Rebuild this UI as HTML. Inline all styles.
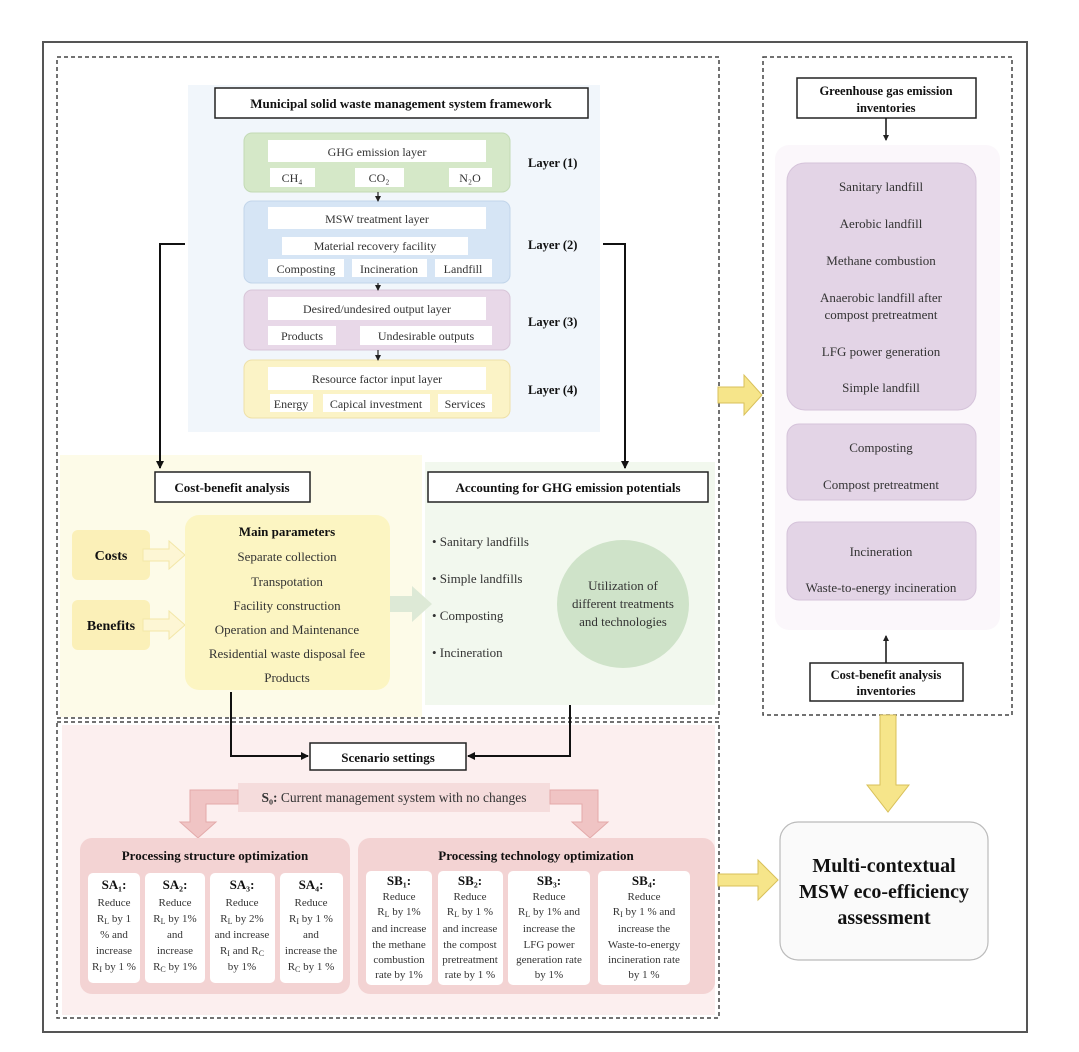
<!DOCTYPE html>
<html><head><meta charset="utf-8"><style>
html,body{margin:0;padding:0;background:#fff}
svg text{font-family:"Liberation Serif",serif;fill:#333}
.b{font-weight:bold;fill:#111}
</style></head><body>
<svg width="1079" height="1047" viewBox="0 0 1079 1047" xmlns="http://www.w3.org/2000/svg">
<defs>
<marker id="ah" markerWidth="8" markerHeight="8" refX="7" refY="4" orient="auto" markerUnits="userSpaceOnUse"><path d="M0,0 L8,4 L0,8 z" fill="#111"/></marker>
<marker id="sa" markerWidth="6" markerHeight="6" refX="5" refY="3" orient="auto" markerUnits="userSpaceOnUse"><path d="M0,0 L6,3 L0,6 z" fill="#222"/></marker>
</defs>
<rect width="1079" height="1047" fill="#fff"/>
<rect x="43" y="42" width="984" height="990" fill="none" stroke="#555" stroke-width="2"/>

<rect x="188" y="85" width="412" height="347" fill="#f1f6fb"/>
<rect x="60" y="455" width="362" height="262" fill="#fdfbe8"/>
<rect x="425" y="462" width="290" height="243" fill="#f2f8ee"/>
<rect x="62" y="725" width="653" height="290" fill="#fcefef"/>
<rect x="775" y="145" width="225" height="485" rx="14" fill="#fbf7fb"/>

<rect x="57" y="57" width="662" height="661" fill="none" stroke="#444" stroke-width="1.5" stroke-dasharray="4,3"/>
<rect x="57" y="722" width="662" height="296" fill="none" stroke="#444" stroke-width="1.5" stroke-dasharray="4,3"/>
<rect x="763" y="57" width="249" height="658" fill="none" stroke="#444" stroke-width="1.5" stroke-dasharray="4,3"/>

<rect x="215" y="88" width="373" height="30" fill="#fff" stroke="#222" stroke-width="1.5"/>
<text x="401" y="108" text-anchor="middle" class="b" font-size="13">Municipal solid waste management system framework</text>

<g font-size="12">
<rect x="244" y="133" width="266" height="59" rx="8" fill="#d5e8c8" stroke="#c3dab5"/>
<rect x="268" y="140" width="218" height="22" fill="#fff"/>
<text x="377" y="156" text-anchor="middle">GHG emission layer</text>
<rect x="270" y="168" width="45" height="19" fill="#fff"/><text x="292" y="182" text-anchor="middle">CH₄</text>
<rect x="355" y="168" width="49" height="19" fill="#fff"/><text x="379" y="182" text-anchor="middle">CO₂</text>
<rect x="449" y="168" width="43" height="19" fill="#fff"/><text x="470" y="182" text-anchor="middle">N₂O</text>

<rect x="244" y="201" width="266" height="82" rx="8" fill="#d6e5f5" stroke="#c2d5ea"/>
<rect x="268" y="207" width="218" height="22" fill="#fff"/>
<text x="377" y="223" text-anchor="middle">MSW treatment layer</text>
<rect x="282" y="237" width="186" height="18" fill="#fff"/><text x="375" y="250" text-anchor="middle">Material recovery facility</text>
<rect x="268" y="259" width="76" height="18" fill="#fff"/><text x="306" y="273" text-anchor="middle">Composting</text>
<rect x="352" y="259" width="75" height="18" fill="#fff"/><text x="389" y="273" text-anchor="middle">Incineration</text>
<rect x="435" y="259" width="57" height="18" fill="#fff"/><text x="463" y="273" text-anchor="middle">Landfill</text>

<rect x="244" y="290" width="266" height="60" rx="8" fill="#e8d8e8" stroke="#d8c5d8"/>
<rect x="268" y="297" width="218" height="23" fill="#fff"/>
<text x="377" y="313" text-anchor="middle">Desired/undesired output layer</text>
<rect x="268" y="326" width="68" height="19" fill="#fff"/><text x="302" y="340" text-anchor="middle">Products</text>
<rect x="360" y="326" width="132" height="19" fill="#fff"/><text x="426" y="340" text-anchor="middle">Undesirable outputs</text>

<rect x="244" y="360" width="266" height="58" rx="8" fill="#fbf3c6" stroke="#eee0a8"/>
<rect x="268" y="367" width="218" height="23" fill="#fff"/>
<text x="377" y="383" text-anchor="middle">Resource factor input layer</text>
<rect x="270" y="394" width="43" height="18" fill="#fff"/><text x="291" y="408" text-anchor="middle">Energy</text>
<rect x="323" y="394" width="107" height="18" fill="#fff"/><text x="376" y="408" text-anchor="middle">Capical investment</text>
<rect x="438" y="394" width="54" height="18" fill="#fff"/><text x="465" y="408" text-anchor="middle">Services</text>
</g>
<g stroke="#222" stroke-width="1.2">
<line x1="378" y1="192" x2="378" y2="201" marker-end="url(#sa)"/>
<line x1="378" y1="283" x2="378" y2="290" marker-end="url(#sa)"/>
<line x1="378" y1="350" x2="378" y2="360" marker-end="url(#sa)"/>
</g>
<g class="b" font-size="12.5">
<text x="528" y="167" class="b">Layer (1)</text>
<text x="528" y="249" class="b">Layer (2)</text>
<text x="528" y="326" class="b">Layer (3)</text>
<text x="528" y="394" class="b">Layer (4)</text>
</g>

<g fill="none" stroke="#111" stroke-width="2">
<polyline points="185,244 160,244 160,468" marker-end="url(#ah)"/>
<polyline points="603,244 625,244 625,468" marker-end="url(#ah)"/>
<polyline points="231,692 231,756 308,756" marker-end="url(#ah)"/>
<polyline points="570,705 570,756 468,756" marker-end="url(#ah)"/>
</g>

<rect x="155" y="472" width="155" height="30" fill="#fff" stroke="#222" stroke-width="1.5"/>
<text x="232" y="492" text-anchor="middle" class="b" font-size="13">Cost-benefit analysis</text>
<rect x="72" y="530" width="78" height="50" rx="6" fill="#fbf0b8"/>
<text x="111" y="560" text-anchor="middle" class="b" font-size="14">Costs</text>
<rect x="72" y="600" width="78" height="50" rx="6" fill="#fbf0b8"/>
<text x="111" y="630" text-anchor="middle" class="b" font-size="14">Benefits</text>
<path d="M143,549 h26 v-8 l16,14 l-16,14 v-8 h-26z" fill="#fdf6d4" stroke="#f3e7a8"/>
<path d="M143,619 h26 v-8 l16,14 l-16,14 v-8 h-26z" fill="#fdf6d4" stroke="#f3e7a8"/>
<rect x="185" y="515" width="205" height="175" rx="14" fill="#fcf5c2"/>
<g font-size="13" text-anchor="middle">
<text x="287" y="536" class="b">Main parameters</text>
<text x="287" y="561">Separate collection</text>
<text x="287" y="586">Transpotation</text>
<text x="287" y="610">Facility construction</text>
<text x="287" y="634">Operation and Maintenance</text>
<text x="287" y="658">Residential waste disposal fee</text>
<text x="287" y="682">Products</text>
</g>
<path d="M390,596 h22 v-10 l20,18 l-20,18 v-10 h-22z" fill="#dde9d6"/>

<rect x="428" y="472" width="280" height="30" fill="#fff" stroke="#222" stroke-width="1.5"/>
<text x="568" y="492" text-anchor="middle" class="b" font-size="13">Accounting for GHG emission potentials</text>
<g font-size="13">
<text x="432" y="546">•  Sanitary landfills</text>
<text x="432" y="583">•  Simple landfills</text>
<text x="432" y="620">•  Composting</text>
<text x="432" y="657">•  Incineration</text>
</g>
<ellipse cx="623" cy="604" rx="66" ry="64" fill="#cfe3c9"/>
<g font-size="13" text-anchor="middle">
<text x="623" y="590">Utilization of</text>
<text x="623" y="608">different treatments</text>
<text x="623" y="626">and technologies</text>
</g>

<rect x="310" y="743" width="156" height="27" fill="#fff" stroke="#222" stroke-width="1.5"/>
<text x="388" y="762" text-anchor="middle" class="b" font-size="13">Scenario settings</text>
<rect x="238" y="783" width="312" height="29" fill="#f5dcdc"/>
<text x="394" y="802" text-anchor="middle" font-size="13.5" fill="#222"><tspan font-weight="bold">S₀:</tspan> Current management system with no changes</text>
<path d="M238,790 h-48 v32 h-10 l18,16 l18,-16 h-10 v-18 h32z" fill="#f0c4c4" stroke="#e3aaaa"/>
<path d="M550,790 h48 v32 h10 l-18,16 l-18,-16 h10 v-18 h-32z" fill="#f0c4c4" stroke="#e3aaaa"/>

<rect x="80" y="838" width="270" height="156" rx="12" fill="#f3d3d3"/>
<text x="215" y="860" text-anchor="middle" class="b" font-size="13">Processing structure optimization</text>
<rect x="358" y="838" width="357" height="156" rx="12" fill="#f3d3d3"/>
<text x="536" y="860" text-anchor="middle" class="b" font-size="13">Processing technology optimization</text>

<g font-size="11" text-anchor="middle">
<rect x="88" y="873" width="52" height="110" rx="5" fill="#fff"/>
<text x="114" y="889" class="b" font-size="13">SA₁:</text>
<text x="114" y="906">Reduce</text><text x="114" y="922">R<tspan font-size="8" dy="2">L</tspan><tspan dy="-2"> by 1</tspan></text><text x="114" y="938">% and</text><text x="114" y="954">increase</text><text x="114" y="970">R<tspan font-size="8" dy="2">I</tspan><tspan dy="-2"> by 1 %</tspan></text>

<rect x="145" y="873" width="60" height="110" rx="5" fill="#fff"/>
<text x="175" y="889" class="b" font-size="13">SA₂:</text>
<text x="175" y="906">Reduce</text><text x="175" y="922">R<tspan font-size="8" dy="2">L</tspan><tspan dy="-2"> by 1%</tspan></text><text x="175" y="938">and</text><text x="175" y="954">increase</text><text x="175" y="970">R<tspan font-size="8" dy="2">C</tspan><tspan dy="-2"> by 1%</tspan></text>

<rect x="210" y="873" width="65" height="110" rx="5" fill="#fff"/>
<text x="242" y="889" class="b" font-size="13">SA₃:</text>
<text x="242" y="906">Reduce</text><text x="242" y="922">R<tspan font-size="8" dy="2">L</tspan><tspan dy="-2"> by 2%</tspan></text><text x="242" y="938">and increase</text><text x="242" y="954">R<tspan font-size="8" dy="2">I</tspan><tspan dy="-2"> and R</tspan><tspan font-size="8" dy="2">C</tspan></text><text x="242" y="970">by 1%</text>

<rect x="280" y="873" width="63" height="110" rx="5" fill="#fff"/>
<text x="311" y="889" class="b" font-size="13">SA₄:</text>
<text x="311" y="906">Reduce</text><text x="311" y="922">R<tspan font-size="8" dy="2">I</tspan><tspan dy="-2"> by 1 %</tspan></text><text x="311" y="938">and</text><text x="311" y="954">increase the</text><text x="311" y="970">R<tspan font-size="8" dy="2">C</tspan><tspan dy="-2"> by 1 %</tspan></text>

<rect x="366" y="871" width="66" height="114" rx="5" fill="#fff"/>
<text x="399" y="885" class="b" font-size="13">SB₁:</text>
<text x="399" y="900">Reduce</text><text x="399" y="915">R<tspan font-size="8" dy="2">L</tspan><tspan dy="-2"> by 1%</tspan></text><text x="399" y="932">and increase</text><text x="399" y="948">the methane</text><text x="399" y="963">combustion</text><text x="399" y="978">rate by 1%</text>

<rect x="438" y="871" width="65" height="114" rx="5" fill="#fff"/>
<text x="470" y="885" class="b" font-size="13">SB₂:</text>
<text x="470" y="900">Reduce</text><text x="470" y="915">R<tspan font-size="8" dy="2">L</tspan><tspan dy="-2"> by 1 %</tspan></text><text x="470" y="932">and increase</text><text x="470" y="948">the compost</text><text x="470" y="963">pretreatment</text><text x="470" y="978">rate by 1 %</text>

<rect x="508" y="871" width="82" height="114" rx="5" fill="#fff"/>
<text x="549" y="885" class="b" font-size="13">SB₃:</text>
<text x="549" y="900">Reduce</text><text x="549" y="915">R<tspan font-size="8" dy="2">L</tspan><tspan dy="-2"> by 1% and</tspan></text><text x="549" y="932">increase the</text><text x="549" y="948">LFG power</text><text x="549" y="963">generation rate</text><text x="549" y="978">by 1%</text>

<rect x="598" y="871" width="92" height="114" rx="5" fill="#fff"/>
<text x="644" y="885" class="b" font-size="13">SB₄:</text>
<text x="644" y="900">Reduce</text><text x="644" y="915">R<tspan font-size="8" dy="2">I</tspan><tspan dy="-2"> by 1 % and</tspan></text><text x="644" y="932">increase the</text><text x="644" y="948">Waste-to-energy</text><text x="644" y="963">incineration rate</text><text x="644" y="978">by 1 %</text>
</g>

<rect x="797" y="78" width="179" height="40" fill="#fff" stroke="#222" stroke-width="1.5"/>
<text x="886" y="95" text-anchor="middle" class="b" font-size="12.5">Greenhouse gas emission</text>
<text x="886" y="112" text-anchor="middle" class="b" font-size="12.5">inventories</text>
<line x1="886" y1="118" x2="886" y2="140" stroke="#111" stroke-width="1.5" marker-end="url(#sa)"/>

<rect x="787" y="163" width="189" height="247" rx="18" fill="#e3d4e6" stroke="#d5c3da"/>
<g font-size="13" text-anchor="middle">
<text x="881" y="191">Sanitary landfill</text>
<text x="881" y="228">Aerobic landfill</text>
<text x="881" y="265">Methane combustion</text>
<text x="881" y="302">Anaerobic landfill after</text>
<text x="881" y="319">compost pretreatment</text>
<text x="881" y="356">LFG power generation</text>
<text x="881" y="392">Simple landfill</text>
</g>
<rect x="787" y="424" width="189" height="76" rx="12" fill="#e3d4e6" stroke="#d5c3da"/>
<g font-size="13" text-anchor="middle">
<text x="881" y="452">Composting</text>
<text x="881" y="489">Compost pretreatment</text>
</g>
<rect x="787" y="522" width="189" height="78" rx="12" fill="#e3d4e6" stroke="#d5c3da"/>
<g font-size="13" text-anchor="middle">
<text x="881" y="556">Incineration</text>
<text x="881" y="592">Waste-to-energy incineration</text>
</g>
<line x1="886" y1="664" x2="886" y2="636" stroke="#111" stroke-width="1.5" marker-end="url(#sa)"/>
<rect x="810" y="663" width="153" height="38" fill="#fff" stroke="#222" stroke-width="1.5"/>
<text x="886" y="679" text-anchor="middle" class="b" font-size="12.5">Cost-benefit analysis</text>
<text x="886" y="695" text-anchor="middle" class="b" font-size="12.5">inventories</text>

<path d="M718,387 h26 v-12 l18,20 l-18,20 v-12 h-26z" fill="#f6e58a" stroke="#d8c05a"/>
<path d="M880,715 h16 v70 h13 l-21,27 l-21,-27 h13z" fill="#f6e58a" stroke="#d8c05a"/>
<path d="M718,874 h40 v-14 l20,20 l-20,20 v-14 h-40z" fill="#f6e58a" stroke="#d8c05a"/>

<rect x="780" y="822" width="208" height="138" rx="18" fill="#fafafa" stroke="#bbb" stroke-width="1.2"/>
<g text-anchor="middle" class="b" font-size="20">
<text x="884" y="872" class="b">Multi-contextual</text>
<text x="884" y="898" class="b">MSW eco-efficiency</text>
<text x="884" y="924" class="b">assessment</text>
</g>
</svg>
</body></html>
